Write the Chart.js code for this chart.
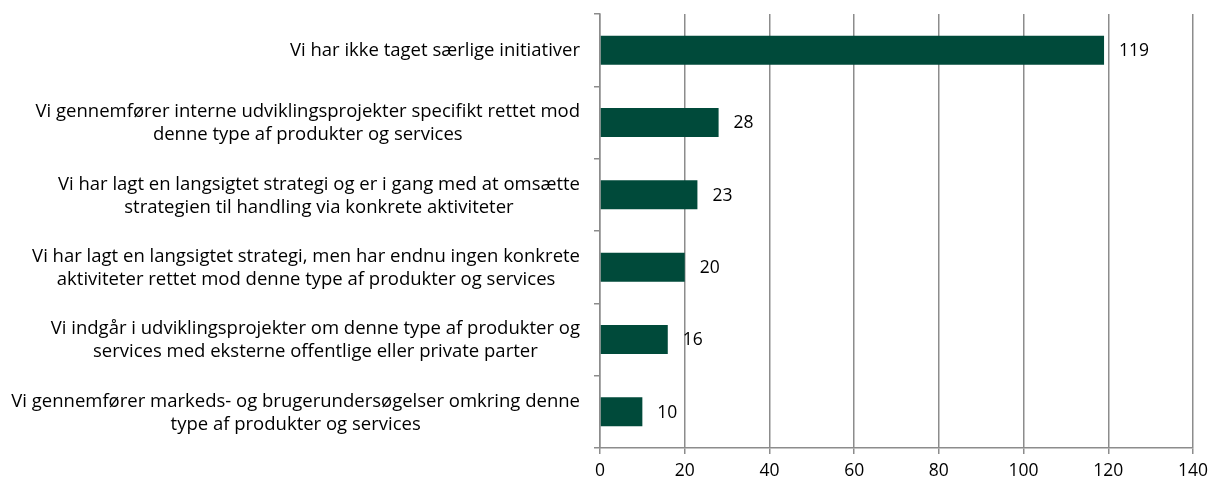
<!DOCTYPE html>
<html>
<head>
<meta charset="utf-8">
<script src="https://cdn.jsdelivr.net/npm/chart.js@4/dist/chart.umd.min.js"></script>
<style>
html,body{margin:0;padding:0;background:#fff;}
#wrap{width:1208px;height:482px;position:relative;}
</style>
</head>
<body>
<div id="wrap"><canvas id="c"></canvas></div>
<script>
const categories = [
  ["Vi har ikke taget særlige initiativer"],
  ["Vi gennemfører interne udviklingsprojekter specifikt rettet mod", "denne type af produkter og services"],
  ["Vi har lagt en langsigtet strategi og er i gang med at omsætte", "strategien til handling via konkrete aktiviteter"],
  ["Vi har lagt en langsigtet strategi, men har endnu ingen konkrete", "aktiviteter rettet mod denne type af produkter og services"],
  ["Vi indgår i udviklingsprojekter om denne type af produkter og", "services med eksterne offentlige eller private parter"],
  ["Vi gennemfører markeds- og brugerundersøgelser omkring denne", "type af produkter og services"]
];
const values = [119, 28, 23, 20, 16, 10];
const xTicks = [0, 20, 40, 60, 80, 100, 120, 140];

const FONT = "'Open Sans', sans-serif";
const LABEL_SIZE = 18.5;
const LINE_H = 23;

const valueLabels = {
  id: 'valueLabels',
  afterDatasetsDraw(chart) {
    const ctx = chart.ctx;
    const meta = chart.getDatasetMeta(0);
    ctx.save();
    ctx.font = "17.5px " + FONT;
    ctx.fillStyle = '#000';
    ctx.textBaseline = 'middle';
    ctx.textAlign = 'left';
    meta.data.forEach((bar, i) => {
      ctx.fillText(String(values[i]), bar.x + 15, bar.y + 1);
    });
    ctx.restore();
  }
};

// Category labels: each block right-aligned to the axis, lines centered within the block
const categoryLabels = {
  id: 'categoryLabels',
  afterDraw(chart) {
    const ctx = chart.ctx;
    const yScale = chart.scales.y;
    const rightEdge = yScale.right - 20;
    ctx.save();
    ctx.font = LABEL_SIZE + "px " + FONT;
    ctx.fillStyle = '#000';
    ctx.textBaseline = 'middle';
    ctx.textAlign = 'center';
    categories.forEach((lines, i) => {
      const yc = yScale.getPixelForTick(i);
      const w = Math.max(...lines.map(l => ctx.measureText(l).width));
      const cx = rightEdge - w / 2;
      const y0 = yc - (lines.length - 1) * LINE_H / 2;
      lines.forEach((l, j) => ctx.fillText(l, cx, y0 + j * LINE_H + 1));
    });
    ctx.restore();
  }
};

new Chart(document.getElementById('c'), {
  type: 'bar',
  data: {
    labels: categories,
    datasets: [{
      data: values,
      backgroundColor: '#004A3A',
      borderWidth: 0,
      barPercentage: 0.4,
      categoryPercentage: 1.0
    }]
  },
  options: {
    indexAxis: 'y',
    responsive: true,
    maintainAspectRatio: false,
    animation: false,
    layout: { padding: { top: 14, right: 7, bottom: 0, left: 0 } },
    plugins: { legend: { display: false }, tooltip: { enabled: false } },
    scales: {
      x: {
        min: 0, max: 140,
        afterBuildTicks(scale) { scale.ticks = xTicks.map(v => ({ value: v })); },
        afterFit(scale) { scale.height = 34; scale.paddingRight = 15; },
        grid: { color: '#8c8c8c', lineWidth: 1.5, tickLength: 6, drawTicks: true },
        border: { color: '#8c8c8c', width: 1.5 },
        ticks: { color: '#000', font: { family: FONT, size: 17.5 }, padding: 7, maxRotation: 0 }
      },
      y: {
        afterFit(scale) { scale.width = 600; scale.paddingTop = 0; scale.paddingBottom = 0; },
        grid: { display: true, drawOnChartArea: false, offset: true, color: '#8c8c8c', lineWidth: 1.5, tickLength: 6 },
        border: { color: '#8c8c8c', width: 1.5 },
        ticks: { display: false }
      }
    }
  },
  plugins: [valueLabels, categoryLabels]
});
</script>
</body>
</html>
